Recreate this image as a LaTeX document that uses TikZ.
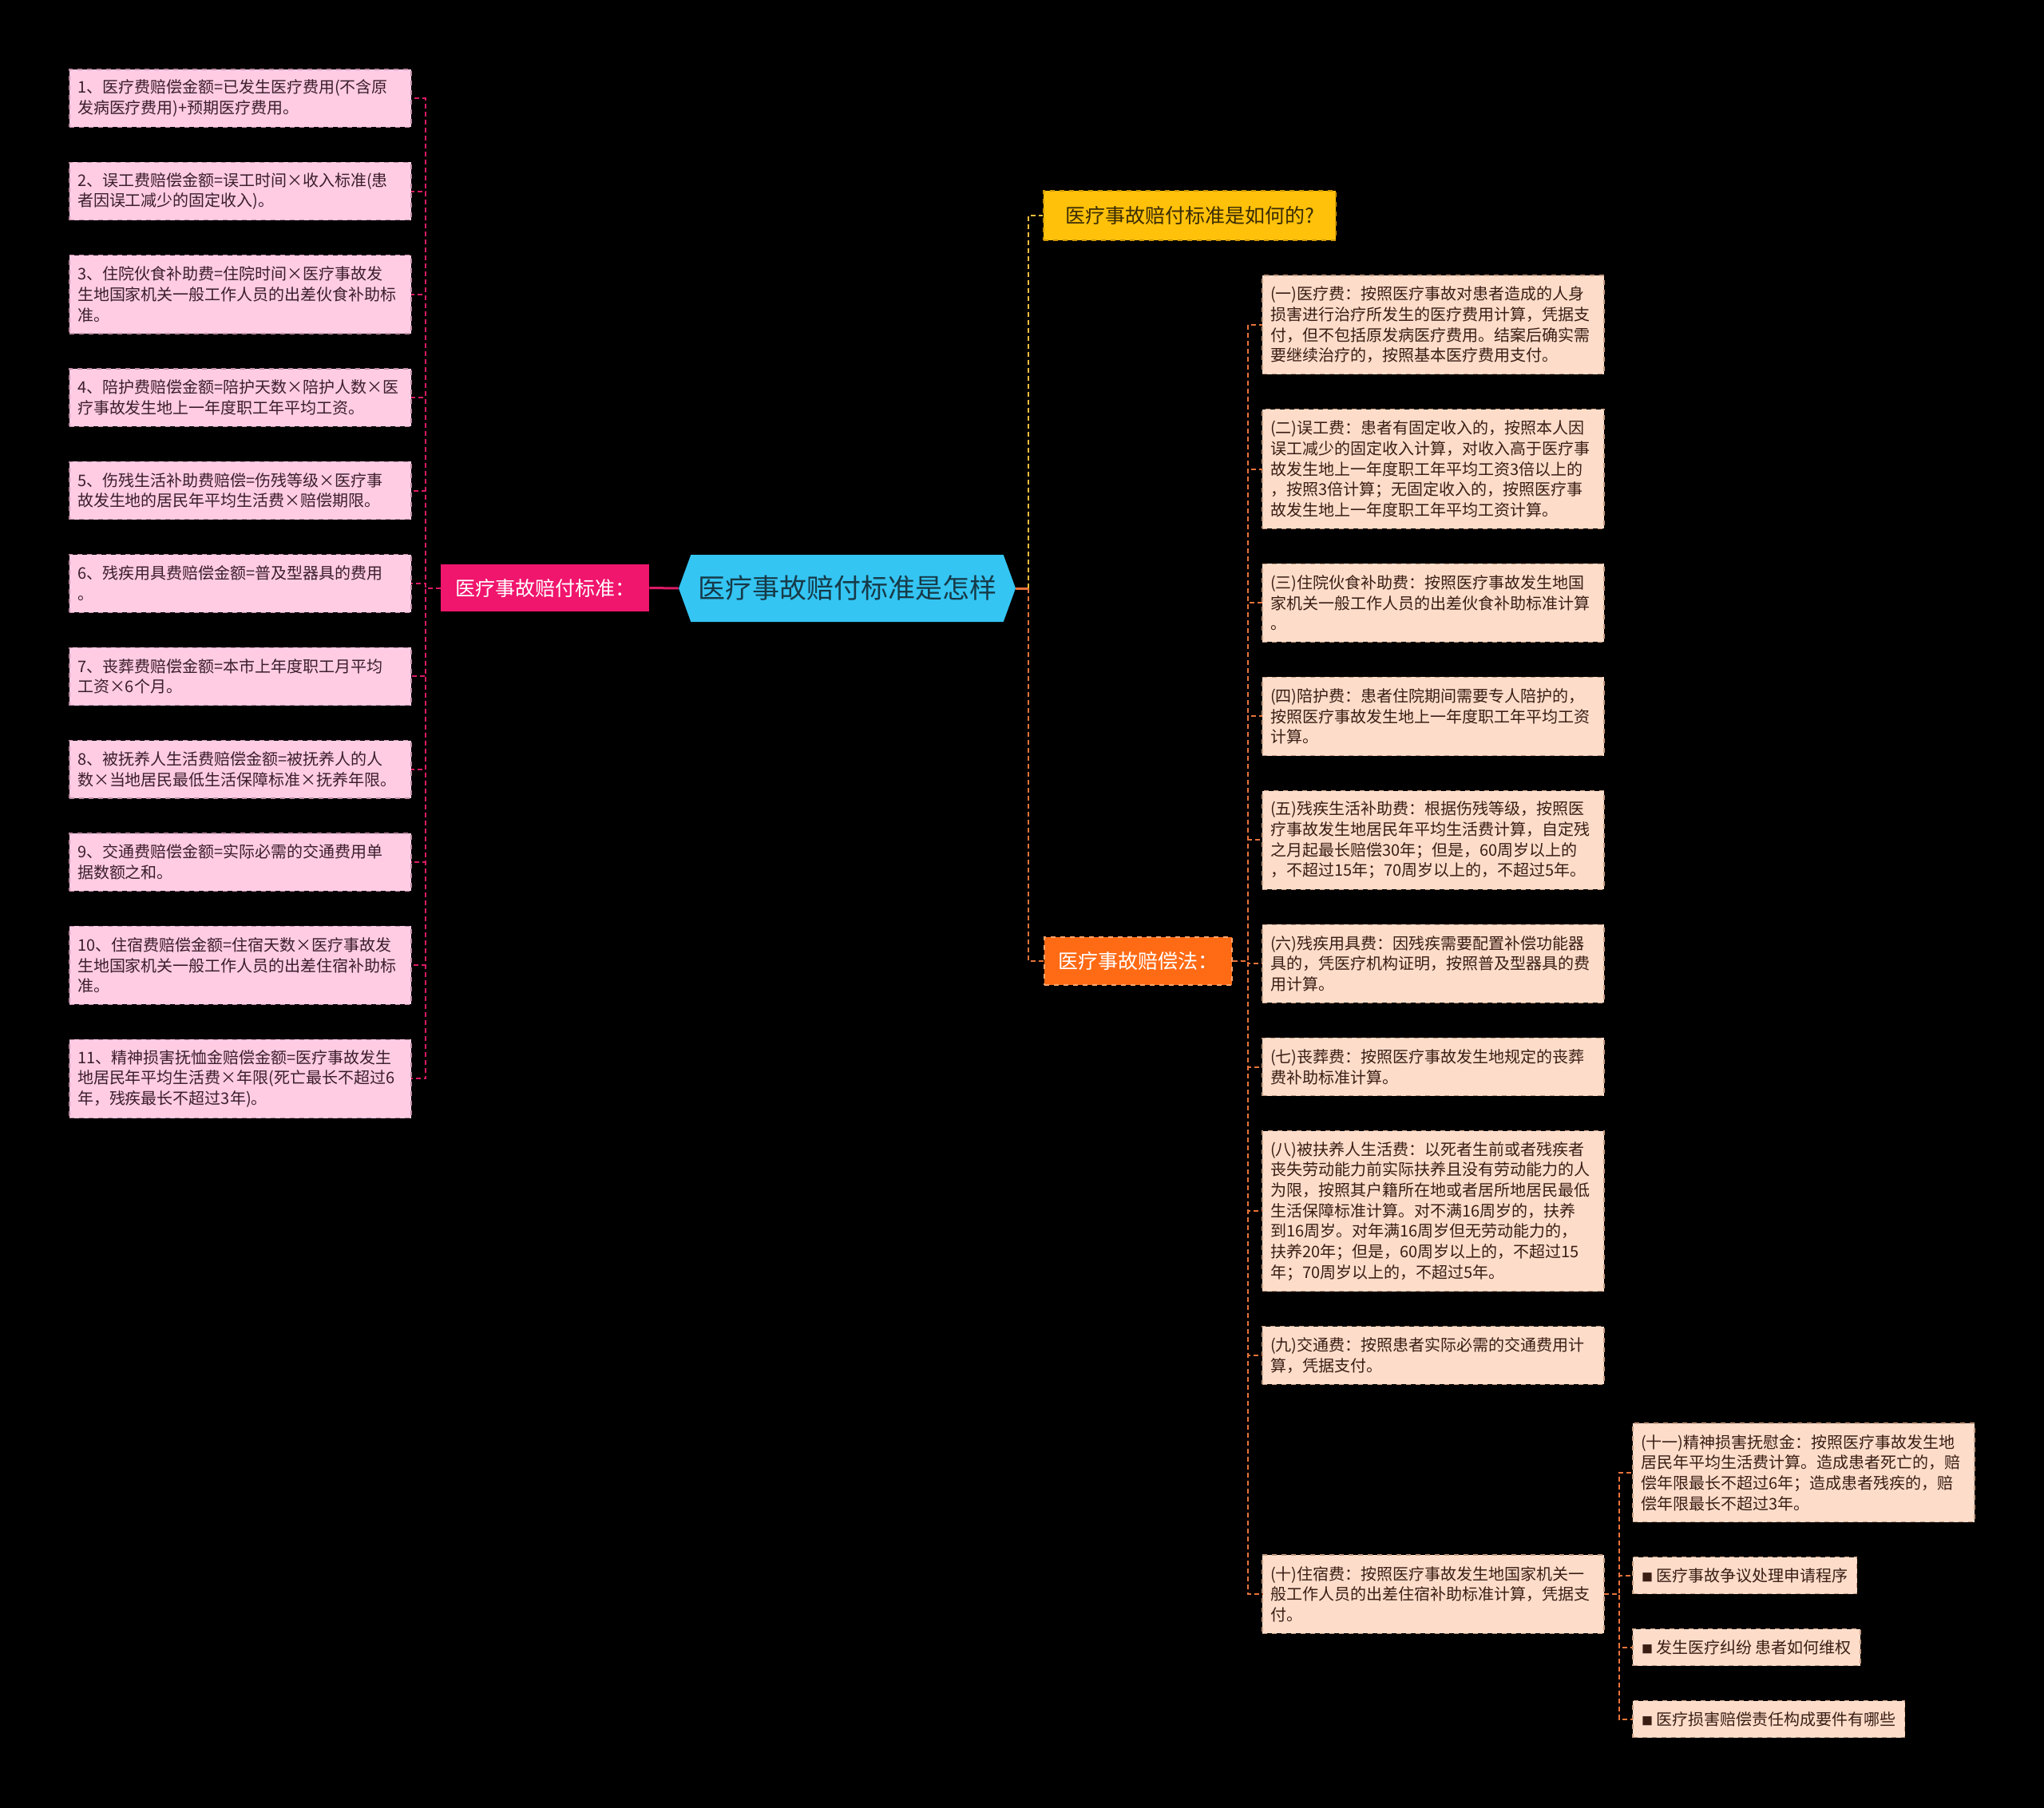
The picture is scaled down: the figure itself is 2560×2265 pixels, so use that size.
\documentclass[tikz,border=0pt]{standalone}
\usepackage{fontspec}
\setmainfont{Noto Sans CJK SC}
\usetikzlibrary{shapes.symbols}
\usetikzlibrary{positioning}
\definecolor{leafpink}{RGB}{255, 204, 228}
\definecolor{leafpinkline}{RGB}{190, 140, 165}
\definecolor{leafpinktext}{RGB}{59, 30, 44}
\definecolor{leafpeach}{RGB}{253, 221, 202}
\definecolor{leafpeachline}{RGB}{195, 155, 130}
\definecolor{leafpeachtext}{RGB}{58, 30, 20}
\definecolor{linkpink}{RGB}{220, 26, 102}
\definecolor{branchpink}{RGB}{240, 21, 109}
\definecolor{centercyan}{RGB}{52, 197, 243}
\definecolor{centertext}{RGB}{22, 58, 72}
\definecolor{branchamber}{RGB}{255, 193, 10}
\definecolor{amberline}{RGB}{205, 150, 0}
\definecolor{ambertext}{RGB}{58, 44, 5}
\definecolor{branchorange}{RGB}{255, 106, 20}
\definecolor{orangeline}{RGB}{250, 165, 110}
\definecolor{linkorange}{RGB}{232, 115, 58}
\definecolor{linkyellow}{RGB}{244, 190, 58}

\newcommand{\sqbullet}{{\fontsize{7pt}{7pt}\selectfont ■}}

\begin{document}
\begin{tikzpicture}[x=0.5pt,y=-0.5pt,
    every node/.style={font=\fontsize{10pt}{12.85pt}\selectfont},
    rows/.style={minimum height={10.5pt+12.85pt*#1}},
    leafL/.style={fill=leafpink, draw=leafpinkline, dashed, line width=0.6pt, text=leafpinktext,
        text width=204pt, inner xsep=5pt, inner ysep=2pt, outer sep=0pt, align=left, anchor=north west},
    leafR/.style={leafL, fill=leafpeach, draw=leafpeachline, text=leafpeachtext},
    tagR/.style={fill=leafpeach, draw=leafpeachline, dashed, line width=0.6pt, text=leafpeachtext,
        inner xsep=5.5pt, outer sep=0pt, minimum height=23pt, anchor=north west},
    hexa/.style={signal, signal to=east and west, signal pointer angle=140, fill=centercyan,
        text=centertext, minimum width=211pt, minimum height=42pt, inner sep=0pt,
        font=\fontsize{17pt}{20pt}\selectfont},
    branch/.style={font=\fontsize{12.5pt}{15pt}\selectfont, inner sep=0pt},
    linkL/.style={linkpink, line width=1pt, dash pattern=on 3pt off 2pt},
    linkO/.style={linkorange, line width=1pt, dash pattern=on 3pt off 2pt},
    linkY/.style={linkyellow, line width=1pt, dash pattern=on 3pt off 2pt},
    node distance=22pt
  ]
\fill[black] (0,0) rectangle (2560,2265);

% centre and branches
\node[hexa] (c) at (1061,737) {医疗事故赔付标准是怎样};
\node[branch, fill=branchpink, text=white, minimum width=130.5pt, minimum height=29.5pt] (lb) at (682.5,736.5) {医疗事故赔付标准：};
\node[branch, fill=branchamber, draw=amberline, dashed, line width=0.6pt, text=ambertext,
    minimum width=183pt, minimum height=31pt] (tb) at (1490,270) {医疗事故赔付标准是如何的?};
\node[branch, fill=branchorange, draw=orangeline, dashed, line width=0.6pt, text=white,
    minimum width=117.5pt, minimum height=30pt] (bb) at (1425.5,1204) {医疗事故赔偿法：};

% left leaves
\node[leafL, rows=2] (l1) at (87,87) {1、医疗费赔偿金额=已发生医疗费用(不含原\\发病医疗费用)+预期医疗费用。};
\node[leafL, rows=2, below=of l1] (l2) {2、误工费赔偿金额=误工时间×收入标准(患\\者因误工减少的固定收入)。};
\node[leafL, rows=3, below=of l2] (l3) {3、住院伙食补助费=住院时间×医疗事故发\\生地国家机关一般工作人员的出差伙食补助标\\准。};
\node[leafL, rows=2, below=of l3] (l4) {4、陪护费赔偿金额=陪护天数×陪护人数×医\\疗事故发生地上一年度职工年平均工资。};
\node[leafL, rows=2, below=of l4] (l5) {5、伤残生活补助费赔偿=伤残等级×医疗事\\故发生地的居民年平均生活费×赔偿期限。};
\node[leafL, rows=2, below=of l5] (l6) {6、残疾用具费赔偿金额=普及型器具的费用\\。};
\node[leafL, rows=2, below=of l6] (l7) {7、丧葬费赔偿金额=本市上年度职工月平均\\工资×6个月。};
\node[leafL, rows=2, below=of l7] (l8) {8、被抚养人生活费赔偿金额=被抚养人的人\\数×当地居民最低生活保障标准×抚养年限。};
\node[leafL, rows=2, below=of l8] (l9) {9、交通费赔偿金额=实际必需的交通费用单\\据数额之和。};
\node[leafL, rows=3, below=of l9] (l10) {10、住宿费赔偿金额=住宿天数×医疗事故发\\生地国家机关一般工作人员的出差住宿补助标\\准。};
\node[leafL, rows=3, below=of l10] (l11) {11、精神损害抚恤金赔偿金额=医疗事故发生\\地居民年平均生活费×年限(死亡最长不超过6\\年，残疾最长不超过3年)。};

% right leaves
\node[leafR, rows=4] (r1) at (1581,345) {(一)医疗费：按照医疗事故对患者造成的人身\\损害进行治疗所发生的医疗费用计算，凭据支\\付，但不包括原发病医疗费用。结案后确实需\\要继续治疗的，按照基本医疗费用支付。};
\node[leafR, rows=5, below=of r1] (r2) {(二)误工费：患者有固定收入的，按照本人因\\误工减少的固定收入计算，对收入高于医疗事\\故发生地上一年度职工年平均工资3倍以上的\\，按照3倍计算；无固定收入的，按照医疗事\\故发生地上一年度职工年平均工资计算。};
\node[leafR, rows=3, below=of r2] (r3) {(三)住院伙食补助费：按照医疗事故发生地国\\家机关一般工作人员的出差伙食补助标准计算\\。};
\node[leafR, rows=3, below=of r3] (r4) {(四)陪护费：患者住院期间需要专人陪护的，\\按照医疗事故发生地上一年度职工年平均工资\\计算。};
\node[leafR, rows=4, below=of r4] (r5) {(五)残疾生活补助费：根据伤残等级，按照医\\疗事故发生地居民年平均生活费计算，自定残\\之月起最长赔偿30年；但是，60周岁以上的\\，不超过15年；70周岁以上的，不超过5年。};
\node[leafR, rows=3, below=of r5] (r6) {(六)残疾用具费：因残疾需要配置补偿功能器\\具的，凭医疗机构证明，按照普及型器具的费\\用计算。};
\node[leafR, rows=2, below=of r6] (r7) {(七)丧葬费：按照医疗事故发生地规定的丧葬\\费补助标准计算。};
\node[leafR, rows=7, below=of r7] (r8) {(八)被扶养人生活费：以死者生前或者残疾者\\丧失劳动能力前实际扶养且没有劳动能力的人\\为限，按照其户籍所在地或者居所地居民最低\\生活保障标准计算。对不满16周岁的，扶养\\到16周岁。对年满16周岁但无劳动能力的，\\扶养20年；但是，60周岁以上的，不超过15\\年；70周岁以上的，不超过5年。};
\node[leafR, rows=2, below=of r8] (r9) {(九)交通费：按照患者实际必需的交通费用计\\算，凭据支付。};
\node[leafR, rows=3] (r10) at (1581,1948) {(十)住宿费：按照医疗事故发生地国家机关一\\般工作人员的出差住宿补助标准计算，凭据支\\付。};

% leaves of (十)
\node[leafR, rows=4] (s1) at (2045,1783) {(十一)精神损害抚慰金：按照医疗事故发生地\\居民年平均生活费计算。造成患者死亡的，赔\\偿年限最长不超过6年；造成患者残疾的，赔\\偿年限最长不超过3年。};
\node[tagR, below=22pt of s1.south west, anchor=north west] (s2) {\sqbullet\ 医疗事故争议处理申请程序};
\node[tagR, below=22pt of s2.south west, anchor=north west] (s3) {\sqbullet\ 发生医疗纠纷 患者如何维权};
\node[tagR, below=22pt of s3.south west, anchor=north west] (s4) {\sqbullet\ 医疗损害赔偿责任构成要件有哪些};

% connectors
\draw[linkpink, line width=1.5pt] (lb.east) -- (c.west);
\foreach \i in {1,...,11}
  \draw[linkL] (lb.west) -- ++(-19,0) |- (l\i.east);
\coordinate (hub) at ([xshift=8pt]c.east);
\draw[linkorange, line width=1.5pt] (c.east) -- (hub);
\draw[linkY] (hub) |- (tb.west);
\draw[linkO] (hub) |- (bb.west);
\foreach \i in {1,...,10}
  \draw[linkO] (bb.east) -- ++(19,0) |- (r\i.west);
\foreach \i in {1,...,4}
  \draw[linkO] (r10.east) -- ++(19,0) |- (s\i.west);
\end{tikzpicture}
\end{document}
